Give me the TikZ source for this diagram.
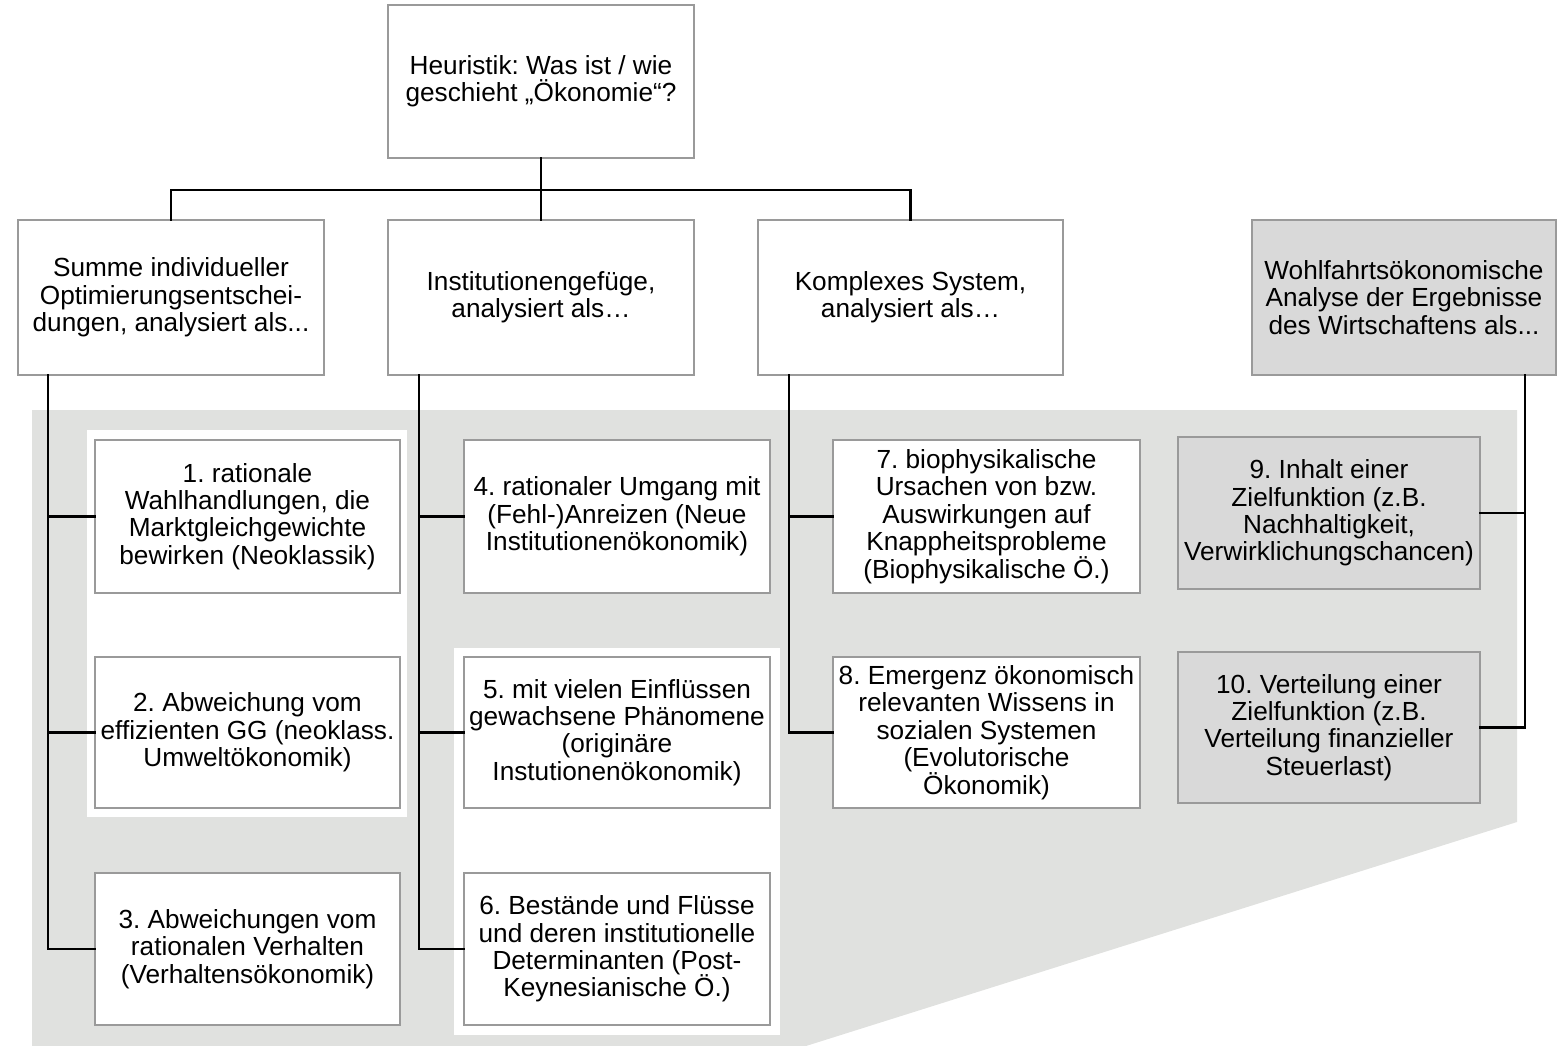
\documentclass[tikz,border=0pt]{standalone}
\usepackage{fontspec}
\setmainfont{Liberation Sans}
\frenchspacing
\definecolor{bgGray}{HTML}{E0E1DF}
\definecolor{boxGray}{HTML}{D9D9D9}
\definecolor{edgeGray}{HTML}{9A9A9A}
\tikzset{
  box/.style={draw=edgeGray, line width=1.4pt, fill=white, rectangle, inner sep=0pt, outer sep=0pt, align=center,
    font=\fontsize{26.2}{27.4}\selectfont},
  graybox/.style={box, fill=boxGray},
  conn/.style={line width=2.8pt, black, line cap=rect},
}
\newcommand{\boxat}[7]{% name, style, x1, y1, x2, y2, text
  \node[#2, minimum width={(#5-#3)*1pt}, minimum height={(#6-#4)*1pt}] (#1) at ({(#3+#5)/2},{(#4+#6)/2}) {#7};}
\begin{document}
\begin{tikzpicture}[x=1pt,y=-1pt]
\useasboundingbox (0,0) rectangle (1566,1046);
% backgrounds
\fill[bgGray] (32,410) -- (1517,410) -- (1517,822) -- (806,1046) -- (32,1046) -- cycle;
\fill[white] (87,430) rectangle (407,817);
\fill[white] (454,648) rectangle (780,1035);
% top
\boxat{top}{box}{388}{5}{694}{158}{Heuristik: Was ist / wie\\geschieht „Ökonomie“?}
\boxat{A}{box}{18}{220}{324}{375}{Summe individueller\\Optimierungsentschei-\\dungen, analysiert als...}
\boxat{B}{box}{388}{220}{694}{375}{Institutionengefüge,\\analysiert als…}
\boxat{C}{box}{758}{220}{1063}{375}{Komplexes System,\\analysiert als…}
\boxat{D}{graybox}{1252}{220}{1556}{375}{Wohlfahrtsökonomische\\Analyse der Ergebnisse\\des Wirtschaftens als...}
% column 1
\boxat{b1}{box}{95}{440}{400}{593}{1. rationale\\Wahlhandlungen, die\\Marktgleichgewichte\\bewirken (Neoklassik)}
\boxat{b2}{box}{95}{657}{400}{808}{2. Abweichung vom\\effizienten GG (neoklass.\\Umweltökonomik)}
\boxat{b3}{box}{95}{873}{400}{1025}{3. Abweichungen vom\\rationalen Verhalten\\(Verhaltensökonomik)}
% column 2
\boxat{b4}{box}{464}{440}{770}{593}{4. rationaler Umgang mit\\(Fehl-)Anreizen (Neue\\Institutionenökonomik)}
\boxat{b5}{box}{464}{657}{770}{808}{5. mit vielen Einflüssen\\gewachsene Phänomene\\(originäre\\Instutionenökonomik)}
\boxat{b6}{box}{464}{873}{770}{1025}{6. Bestände und Flüsse\\und deren institutionelle\\Determinanten (Post-\\Keynesianische Ö.)}
% column 3
\boxat{b7}{box}{833}{440}{1140}{593}{7. biophysikalische\\Ursachen von bzw.\\Auswirkungen auf\\Knappheitsprobleme\\(Biophysikalische Ö.)}
\boxat{b8}{box}{833}{657}{1140}{808}{8. Emergenz ökonomisch\\relevanten Wissens in\\sozialen Systemen\\(Evolutorische\\Ökonomik)}
% column 4
\boxat{b9}{graybox}{1178}{437}{1480}{589}{9. Inhalt einer\\Zielfunktion (z.B.\\Nachhaltigkeit,\\Verwirklichungschancen)}
\boxat{b10}{graybox}{1178}{652}{1480}{803}{10. Verteilung einer\\Zielfunktion (z.B.\\Verteilung finanzieller\\Steuerlast)}
% connectors top
\coordinate (bus) at (0,190);
\draw[conn] (top.south) -- (B.north);
\draw[conn] (A.north) -- (A.north |- bus) -| (C.north);
% column connectors
\coordinate (ta) at (48,375);
\coordinate (tb) at (419,375);
\coordinate (tc) at (789,375);
\coordinate (td) at (1525,375);
\draw[conn] (ta) |- (b3.west);
\draw[conn] (ta |- b1.west) -- (b1.west);
\draw[conn] (ta |- b2.west) -- (b2.west);
\draw[conn] (tb) |- (b6.west);
\draw[conn] (tb |- b4.west) -- (b4.west);
\draw[conn] (tb |- b5.west) -- (b5.west);
\draw[conn] (tc) |- (b8.west);
\draw[conn] (tc |- b7.west) -- (b7.west);
\draw[conn] (td) |- (b10.east);
\draw[conn] (td |- b9.east) -- (b9.east);
\end{tikzpicture}
\end{document}
